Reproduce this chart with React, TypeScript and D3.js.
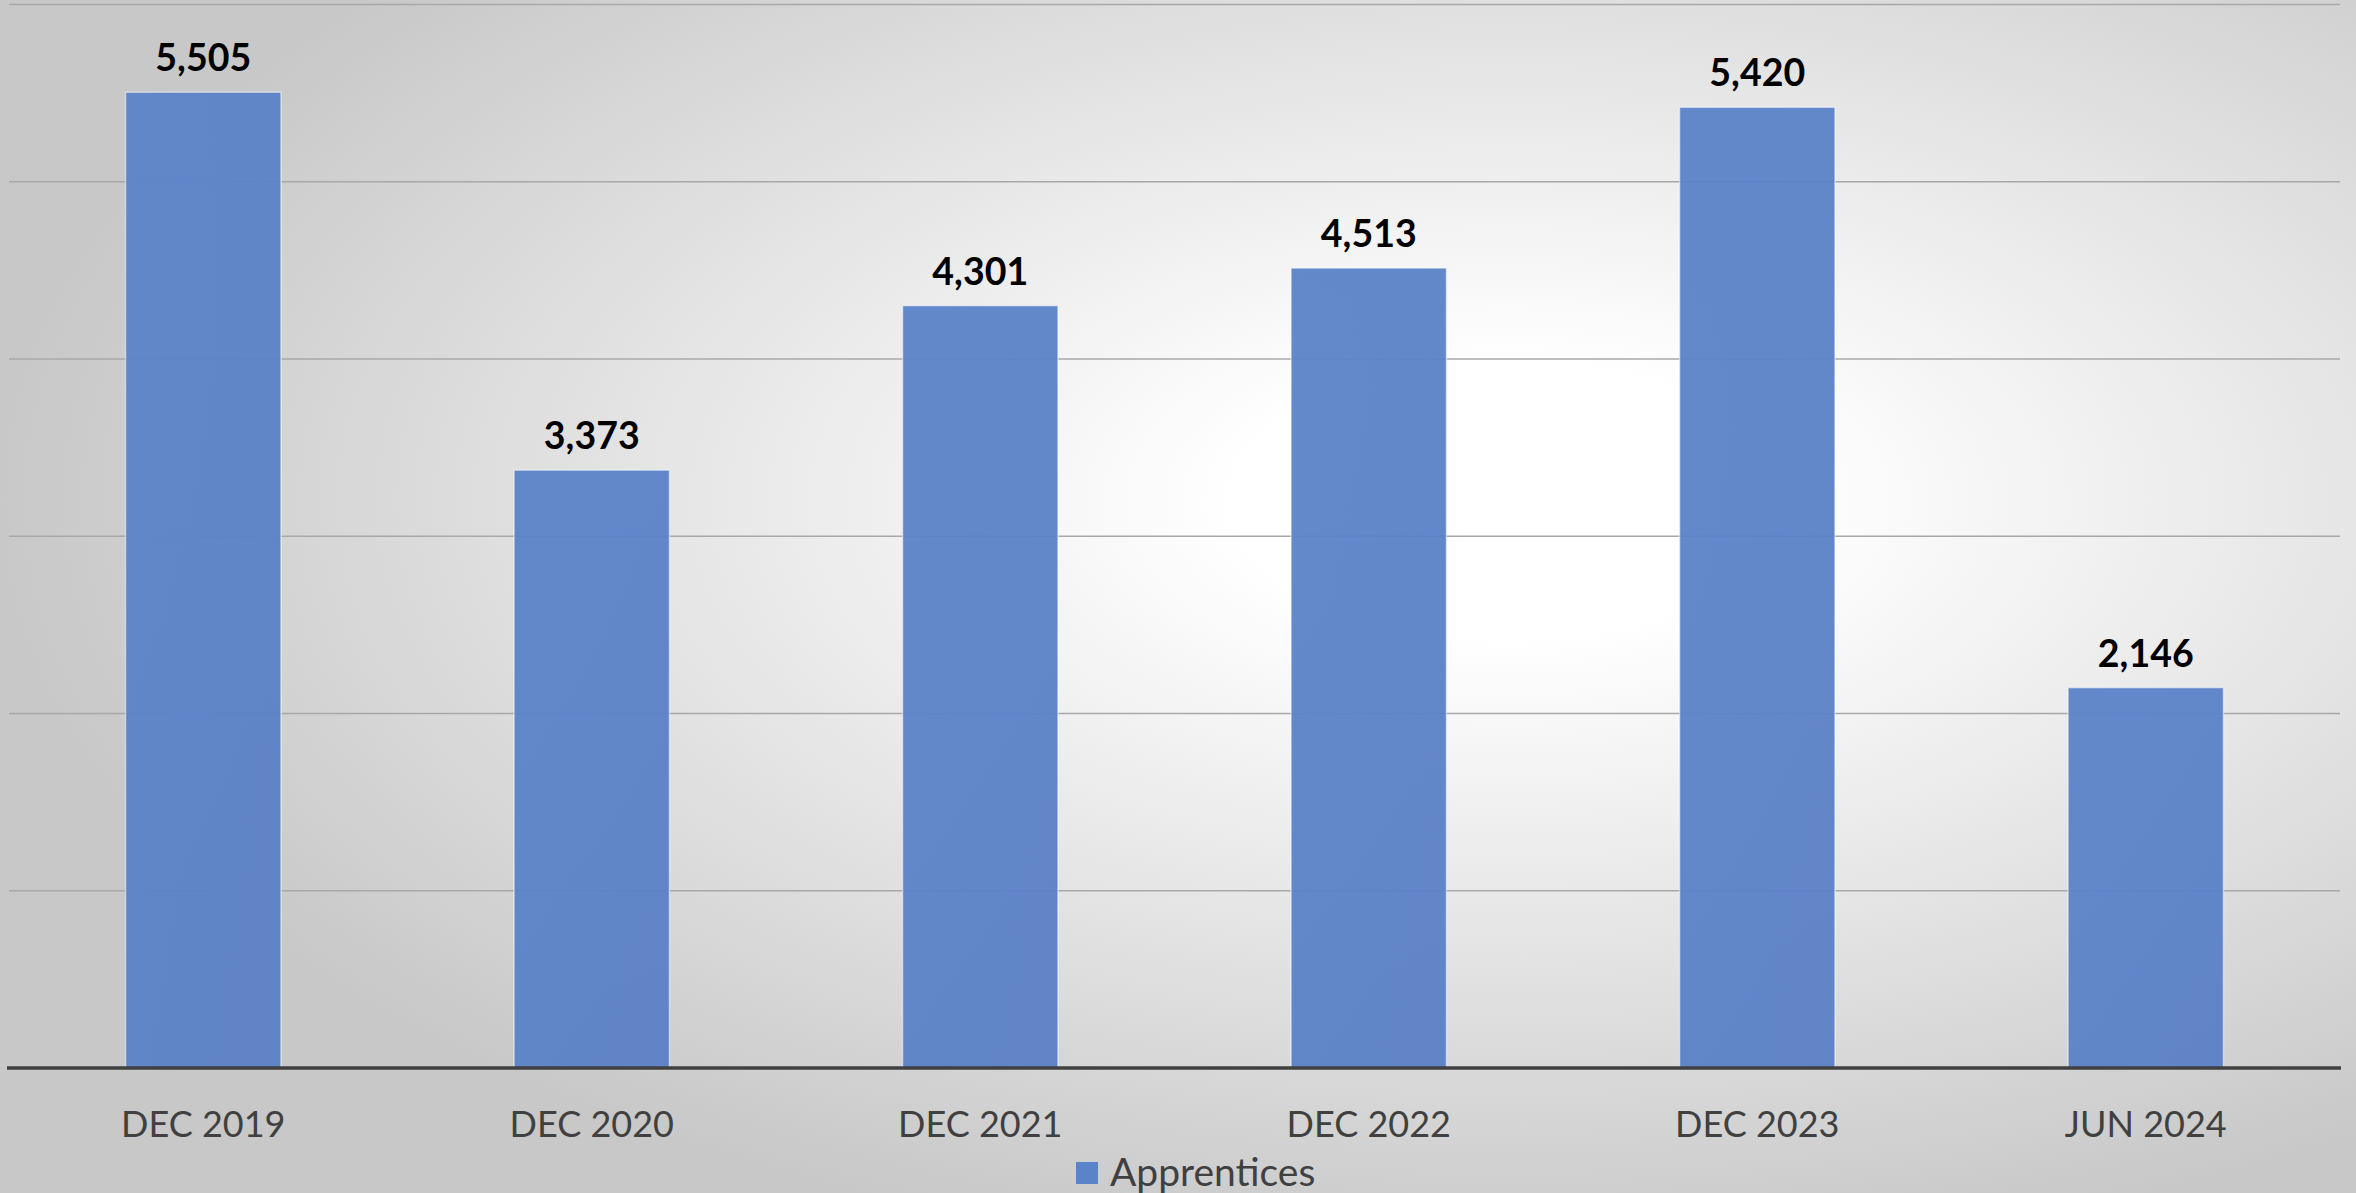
import React from "react";
import * as d3 from "d3";

const categories = ["DEC 2019", "DEC 2020", "DEC 2021", "DEC 2022", "DEC 2023", "JUN 2024"];
const apprentices = [5505, 3373, 4301, 4513, 5420, 2146];
const gridTicks = [0, 1000, 2000, 3000, 4000, 5000, 6000];
const seriesName = "Apprentices";

const W = 2356;
const H = 1193;
const FONT = "Lato, 'Open Sans', sans-serif";

export default function App() {
  const x = d3.scaleBand<string>().domain(categories).range([9, 2340]).paddingInner(0.6).paddingOuter(0.3);
  const y = d3.scaleLinear().domain([0, 6000]).range([1068, 4.5]);
  const fmt = d3.format(",");
  const data = categories.map((c, i) => ({ c, v: apprentices[i] }));

  return (
    <svg
      width={W}
      height={H}
      viewBox={`0 0 ${W} ${H}`}
      style={{ position: "absolute", left: 0, top: 0, display: "block" }}
    >
      <defs>
        <radialGradient id="bg" cx="0.64" cy="0.42" r="0.64" fx="0.64" fy="0.42">
          <stop offset="0" stopColor="#ffffff" />
          <stop offset="0.18" stopColor="#ffffff" />
          <stop offset="0.6" stopColor="#e3e3e3" />
          <stop offset="1" stopColor="#c8c8c8" />
        </radialGradient>
        <linearGradient id="barGrad" x1="0" y1="0" x2="1" y2="1">
          <stop offset="0" stopColor="#5b83c9" />
          <stop offset="1" stopColor="#5a80c6" />
        </linearGradient>
      </defs>
      <rect x={0} y={0} width={W} height={H} fill="url(#bg)" />

      {gridTicks.filter((t) => t > 0).map((t) => (
        <line key={t} x1={9} x2={2340} y1={y(t)} y2={y(t)} stroke="#a8a8a8" strokeWidth={1.5} />
      ))}

      {data.map((d) => (
        <rect
          key={d.c}
          x={x(d.c)!}
          y={y(d.v)}
          width={x.bandwidth()}
          height={y(0) - y(d.v)}
          fill="url(#barGrad)"
          fillOpacity={0.95}
          stroke="#ffffff"
          strokeOpacity={0.5}
          strokeWidth={1.5}
        />
      ))}

      <line x1={7} x2={2341} y1={y(0)} y2={y(0)} stroke="#404040" strokeWidth={3.5} />

      {data.map((d) => (
        <text
          key={"v" + d.c}
          x={x(d.c)! + x.bandwidth() / 2}
          y={y(d.v) - 21}
          textAnchor="middle"
          fontFamily={FONT}
          fontWeight="bold"
          fontSize={37.5}
          fill="#000000"
        >
          {fmt(d.v)}
        </text>
      ))}

      {categories.map((c) => (
        <text
          key={"c" + c}
          x={x(c)! + x.bandwidth() / 2}
          y={1137}
          textAnchor="middle"
          fontFamily={FONT}
          fontSize={36}
          fill="#404040"
        >
          {c}
        </text>
      ))}

      <rect x={1076} y={1162} width={22} height={22} fill="#5b83c9" />
      <text x={1110} y={1186} fontFamily={FONT} fontSize={39} fill="#404040">
        {seriesName}
      </text>
    </svg>
  );
}
